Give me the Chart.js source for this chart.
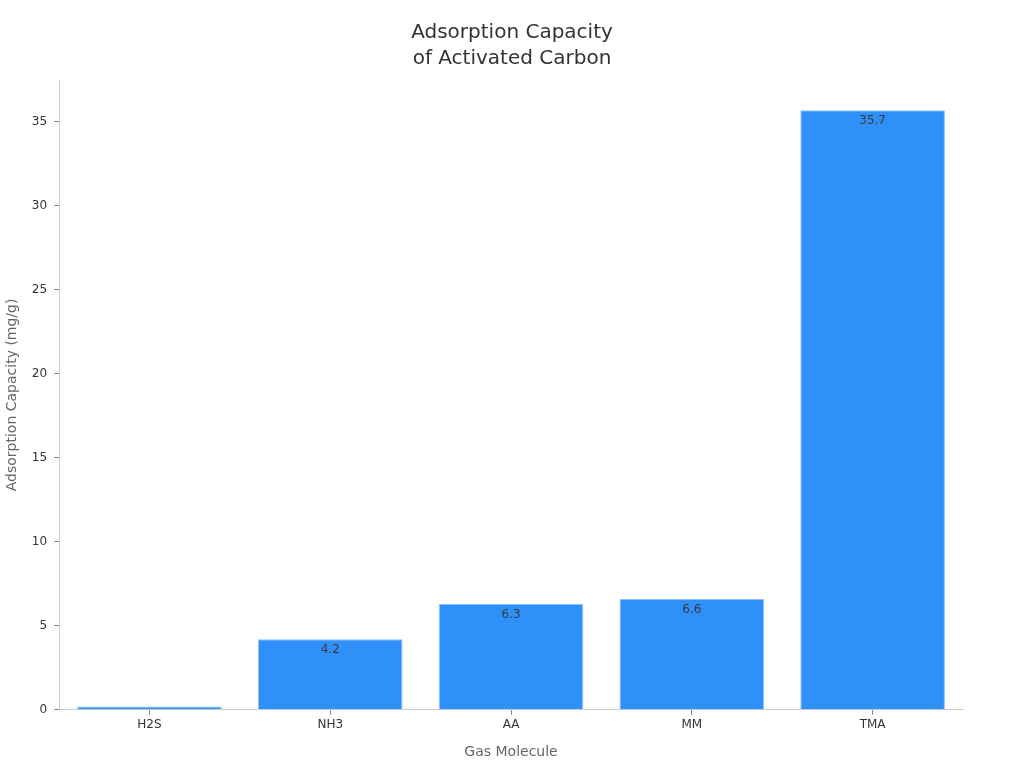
<!DOCTYPE html>
<html>
<head>
<meta charset="utf-8">
<script src="https://cdn.jsdelivr.net/npm/chart.js@4"></script>
<style>
  html, body { margin: 0; padding: 0; background: #fff; }
  #wrap { width: 1024px; height: 768px; }
</style>
</head>
<body>
<div id="wrap"><canvas id="barChartID"></canvas></div>
<script>
var gas_labels = ['H2S', 'NH3', 'AA', 'MM', 'TMA'];
var capacity_values = [0.2, 4.2, 6.3, 6.6, 35.7];
var capacity_text = ['', '4.2', '6.3', '6.6', '35.7'];
var title_lines = ['Adsorption Capacity', 'of Activated Carbon'];

Chart.defaults.font.family = 'DejaVu Sans';
Chart.defaults.color = '#333';

// title centred on the whole canvas, plus value labels inside the bar tops
var bar_value_labels = {
    id: 'barValueLabels',
    afterDraw: function(chart) {
        var ctx = chart.ctx;
        ctx.save();
        ctx.font = '20px "DejaVu Sans"';
        ctx.fillStyle = '#333';
        ctx.textAlign = 'center';
        ctx.textBaseline = 'middle';
        for (var k = 0; k < title_lines.length; k++) {
            ctx.fillText(title_lines[k], chart.width / 2, 33 + k * 26);
        }

        var meta = chart.getDatasetMeta(0);
        ctx.font = '12px "DejaVu Sans"';
        ctx.fillStyle = '#3a3a3a';
        ctx.textBaseline = 'top';
        meta.data.forEach(function(bar, i) {
            if (capacity_text[i]) {
                ctx.fillText(capacity_text[i], bar.x, bar.y + 5);
            }
        });
        ctx.restore();
    }
};

var bar_chart_config = {
    type: 'bar',
    data: {
        labels: gas_labels,
        datasets: [{
            data: capacity_values,
            backgroundColor: '#2E90F8',
            borderColor: '#8CC2FB',
            borderWidth: 1,
            categoryPercentage: 1.0,
            barPercentage: 0.8
        }]
    },
    options: {
        responsive: false,
        animation: false,
        layout: { padding: { top: 80, right: 61, bottom: 3, left: 0 } },
        plugins: {
            legend: { display: false },
            tooltip: { enabled: false },
            title: { display: false }
        },
        scales: {
            x: {
                grid: { offset: false, drawOnChartArea: false, drawTicks: true, tickLength: 5, color: '#888' },
                border: { color: '#ccc' },
                ticks: { font: { size: 12 }, color: '#333', padding: 3 },
                title: { display: true, text: 'Gas Molecule', font: { size: 14 }, color: '#666', padding: { top: 9, bottom: 4 } }
            },
            y: {
                min: 0,
                max: 37.5,
                grid: { drawOnChartArea: false, drawTicks: true, tickLength: 5, color: '#888' },
                border: { color: '#ccc' },
                afterBuildTicks: function(scale) {
                    scale.ticks = scale.ticks.filter(function(t) { return t.value % 5 === 0; });
                },
                ticks: {
                    stepSize: 5,
                    font: { size: 12 },
                    color: '#333',
                    padding: 7
                },
                title: { display: true, text: 'Adsorption Capacity (mg/g)', font: { size: 14 }, color: '#666' }
            }
        }
    },
    plugins: [bar_value_labels]
};

var myContext = document.getElementById('barChartID');
myContext.width = 1024;
myContext.height = 768;
var myChart = new Chart(myContext, bar_chart_config);
</script>
</body>
</html>
